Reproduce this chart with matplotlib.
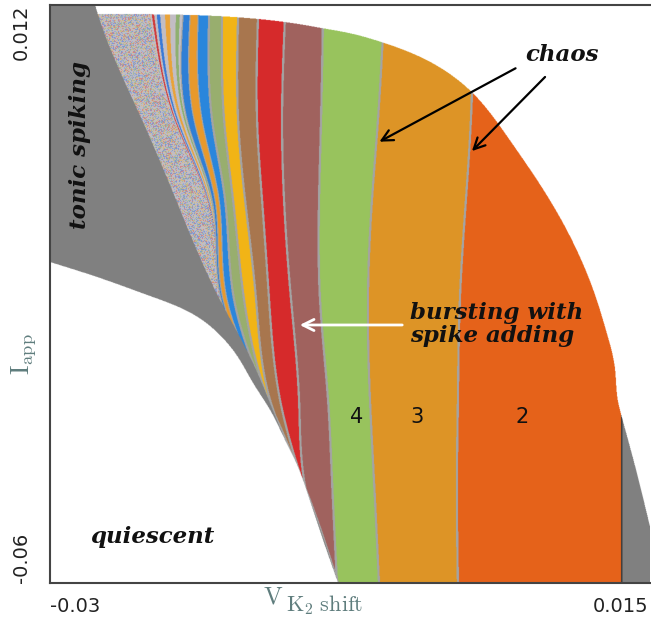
import numpy as np
import matplotlib
matplotlib.use('Agg')
import matplotlib.pyplot as plt
from matplotlib.colors import to_rgb

# ---------------- data ----------------
x_min, x_max = -0.03, 0.015          # V_K2 shift
y_min, y_max = -0.06, 0.012          # I_app

# I_app levels at which band boundaries were read
I_levels = np.array([10.8, -2.3, -12.3, -24.7, -37.2, -47.2, -60.0]) * 1e-3

# left edge of the bursting region (border with tonic spiking)
edge_levels = np.array([12.0, 10.75, -2.33, -12.29, -24.75, -31.85, -40.07,
                        -47.17, -60.0]) * 1e-3
edge_left = np.array([-26.625, -26.4, -23.1, -20.55, -17.25, -15.0, -12.9,
                      -11.1, -8.4]) * 1e-3
# right edge of the fully chaotic wedge
edge_noise = np.array([-22.5, -20.7, -18.225, -16.8, -13.65, -11.1, -8.4]) * 1e-3

# boundaries between spike-adding bands (left to right), V_K2 shift
b_thin = np.array([-20.025, -19.725, -17.85, -17.175, -13.65, -11.1, -8.4]) * 1e-3
b_blue2 = np.array([-19.5, -19.2, -17.625, -17.025, -13.65, -11.1, -8.4]) * 1e-3
b_orng2 = np.array([-18.9, -18.6, -17.325, -16.725, -13.65, -11.1, -8.4]) * 1e-3
b_blue = np.array([-18.075, -17.85, -16.875, -16.2, -13.65, -11.1, -8.4]) * 1e-3
b_olive = np.array([-17.1, -16.95, -16.275, -15.45, -13.65, -11.1, -8.4]) * 1e-3
b_yellow = np.array([-15.9, -15.9, -15.375, -14.55, -13.5, -11.1, -8.4]) * 1e-3
b_brown = np.array([-14.4, -14.475, -14.1, -13.575, -12.75, -11.1, -8.4]) * 1e-3
b_red = np.array([-12.375, -12.6, -12.45, -11.925, -11.325, -10.95, -8.55]) * 1e-3
b_mauve = np.array([-9.525, -9.675, -9.825, -9.75, -9.15, -8.85, -8.475]) * 1e-3
b_four = np.array([-4.95, -5.4, -5.85, -6.15, -6.0, -5.7, -5.325]) * 1e-3
b_three = np.array([1.8, 1.575, 1.2, 0.75, 0.6, 0.525, 0.6]) * 1e-3
b_two = np.array([12.9, 12.9, 12.9, 12.9, 12.9, 12.9, 12.9]) * 1e-3
band_bounds = [b_thin, b_blue2, b_orng2, b_blue, b_olive, b_yellow,
               b_brown, b_red, b_mauve, b_four, b_three, b_two]

band_colors = ['#2f7fd6', '#e99a2c', '#2a86dc', '#98ae6e', '#f2b516',
               '#a8764e', '#d62a2b', '#a0625f', '#98c35d', '#dd9426', '#e5621b']

# quiescent / spiking border
quiet_x = np.array([-30, -26.25, -22.5, -19.725, -18.525, -17.25, -15.975,
                    -14.775, -13.5, -12.375, -11.475, -10.65, -9.525, -8.4]) * 1e-3
quiet_y = np.array([-20.02, -22.01, -24.25, -26.12, -27.32, -29.14, -31.70,
                    -35.09, -38.45, -42.19, -45.30, -49.04, -54.64, -60.0]) * 1e-3

# outer border of the oscillatory region (top / right)
arc_x = np.array([-26.475, -22.5, -18.75, -15.0, -11.25, -9.525, -7.5, -5.1,
                  -1.725, 1.65, 4.5, 7.5, 11.025, 11.775, 12.375, 12.6, 12.9,
                  13.875, 15.075]) * 1e-3
arc_y = np.array([10.88, 10.88, 10.75, 10.38, 9.63, 9.13, 8.51, 7.39, 5.15,
                  1.16, -4.82, -12.29, -24.75, -28.86, -33.09, -37.21, -39.32,
                  -45.30, -53.40]) * 1e-3


# ---------------- smooth interpolation helpers ----------------
def nat_spline(xk, yk, xq):
    xk = np.asarray(xk, float)
    yk = np.asarray(yk, float)
    n = len(xk)
    h = np.diff(xk)
    A = np.zeros((n, n))
    r = np.zeros(n)
    A[0, 0] = A[-1, -1] = 1.0
    for i in range(1, n - 1):
        A[i, i - 1] = h[i - 1]
        A[i, i] = 2 * (h[i - 1] + h[i])
        A[i, i + 1] = h[i]
        r[i] = 3 * ((yk[i + 1] - yk[i]) / h[i] - (yk[i] - yk[i - 1]) / h[i - 1])
    c = np.linalg.solve(A, r)
    b = (yk[1:] - yk[:-1]) / h - h * (2 * c[:-1] + c[1:]) / 3
    d = (c[1:] - c[:-1]) / (3 * h)
    xq = np.clip(xq, xk[0], xk[-1])
    j = np.clip(np.searchsorted(xk, xq) - 1, 0, n - 2)
    dx = xq - xk[j]
    return yk[j] + b[j] * dx + c[j] * dx ** 2 + d[j] * dx ** 3


def curve_y_of_x(cx, cy, xq):
    # parametric spline through the points, then y as a function of x
    sx = (x_max - x_min) / 600.0
    sy = (y_max - y_min) / 578.0
    seg = np.hypot(np.diff(cx) / sx, np.diff(cy) / sy)
    t = np.concatenate([[0], np.cumsum(seg)])
    tt = np.linspace(0, t[-1], 4000)
    xx = nat_spline(t, cx, tt)
    yy = nat_spline(t, cy, tt)
    xx = np.maximum.accumulate(xx)
    return np.interp(xq, xx, yy)


# ---------------- build the classification image ----------------
nx, ny = 1200, 1156
xs = np.linspace(x_min, x_max, nx)
ys = np.linspace(y_min, y_max, ny)
X, Y = np.meshgrid(xs, ys)
px = (x_max - x_min) / 600.0     # one screen pixel in data units


def rowb(vals, lev=I_levels):
    return nat_spline(lev[::-1], np.asarray(vals)[::-1], ys)[:, None]


Lb = rowb(edge_left, edge_levels)
Nb = rowb(edge_noise)
S = [rowb(b) for b in band_bounds]
q = curve_y_of_x(quiet_x, quiet_y, xs)[None, :]
q[:, xs > quiet_x[-1]] = y_min - 1
top = curve_y_of_x(arc_x, arc_y, xs)[None, :]

img = np.ones((ny, nx, 3))
quiet = Y < q
gray_c = np.array(to_rgb('#808080'))
gray_left = (~quiet) & (X < Lb)
inside = (~quiet) & (X >= Lb) & (Y <= top)
right_gray = inside & (X > S[-1])
img[gray_left] = gray_c
img[right_gray] = gray_c

idx = np.zeros_like(X, dtype=int)
for s in S[:-1]:
    idx += (X > s)
band_area = inside & ~right_gray
for k, col in enumerate(band_colors):
    img[band_area & (idx == k + 1)] = to_rgb(col)

# chaotic wedge (speckled texture) and thin stripes
light = np.array(to_rgb('#c2bec4'))
zone0 = band_area & (idx == 0)
noise = zone0 & (X < Nb)
thin = zone0 & (X >= Nb)
img[zone0] = light
I_, J_ = np.meshgrid(np.arange(nx) // 2, np.arange(ny) // 2)
hh = I_.astype(np.uint64) * np.uint64(374761393) + J_.astype(np.uint64) * np.uint64(668265263)
hh ^= hh >> np.uint64(13)
hh *= np.uint64(1274126177)
hh ^= hh >> np.uint64(16)
hsh = (hh % np.uint64(9)).astype(int)
spk_cols = ['#4a78d8', '#d85a5a', '#e6b450', '#8fb878', '#7a9ae0']
for k, col in enumerate(spk_cols):
    m = noise & (hsh == k)
    img[m] = 0.6 * np.array(to_rgb(col)) + 0.4 * light
t = (X - Nb) / np.maximum(S[0] - Nb, 1e-9)
for (a, b, col) in [(0.05, 0.12, '#d03a3a'), (0.2, 0.3, '#3a7ad8'),
                    (0.45, 0.6, '#eaa33a'), (0.78, 0.9, '#8fb070')]:
    img[thin & (t >= a) & (t < b)] = to_rgb(col)

# chaotic borders between bands
line_c = np.array(to_rgb('#a4a4a4'))
for k, s in enumerate(S[:-1]):
    hw = (0.6 if k < 3 else 1.1) * px
    img[band_area & (np.abs(X - s) < hw)] = line_c
img[inside & (np.abs(X - S[-1]) < 0.7 * px)] = to_rgb('#3c3c3c')

# ---------------- figure ----------------
plt.rcParams['mathtext.fontset'] = 'cm'
fig = plt.figure(figsize=(6.51, 6.19), dpi=100)
ax = fig.add_axes([50 / 651, 36 / 619, 600 / 651, 578 / 619])
ax.imshow(img, origin='lower', extent=[x_min, x_max, y_min, y_max],
          aspect='auto', interpolation='antialiased')
ax.set_xlim(x_min, x_max)
ax.set_ylim(y_min, y_max)
ax.set_xticks([])
ax.set_yticks([])
for sp in ['left', 'top', 'bottom']:
    ax.spines[sp].set_color('#444444')
    ax.spines[sp].set_linewidth(1.5)
ax.spines['right'].set_visible(False)

tick_kw = dict(fontsize=14, color='#222222', family='DejaVu Sans')
ax.annotate('-0.03', xy=(x_min, 0), xycoords=('data', 'axes fraction'),
            xytext=(0, -10), textcoords='offset points', ha='left', va='top', **tick_kw)
ax.annotate('0.015', xy=(x_max, 0), xycoords=('data', 'axes fraction'),
            xytext=(-1, -10), textcoords='offset points', ha='right', va='top', **tick_kw)
ax.annotate('0.012', xy=(0, y_max), xycoords=('axes fraction', 'data'),
            xytext=(-14, 0), textcoords='offset points', ha='right', va='top',
            rotation=90, **tick_kw)
ax.annotate('-0.06', xy=(0, y_min), xycoords=('axes fraction', 'data'),
            xytext=(-14, 0), textcoords='offset points', ha='right', va='bottom',
            rotation=90, **tick_kw)

lab_c = '#5f7d7d'
fig.text(0.036, 0.428, r'$\mathrm{I}_{\mathrm{app}}$', rotation=90,
         ha='center', va='center', fontsize=19, color=lab_c)
fig.text(263 / 651, 1 - 603 / 619, r'$\mathrm{V}$', ha='left', va='baseline',
         fontsize=18, color=lab_c)
fig.text(286 / 651, 1 - 611 / 619, r'$\mathrm{K}_2\ \mathrm{shift}$',
         ha='left', va='baseline', fontsize=16, color=lab_c)

ann_kw = dict(family='DejaVu Serif', fontweight='bold', style='italic',
              fontsize=16.5, color='#111111')
ax.text(-0.02775, -0.00544, 'tonic spiking', rotation=90, ha='center',
        va='center', **ann_kw)
ax.text(-0.02235, -0.05427, 'quiescent', ha='center', va='center', **ann_kw)
ax.text(0.00840, 0.00577, 'chaos', ha='center', va='center', **ann_kw)
ax.text(-0.003, -0.02775, 'bursting with\nspike adding', ha='left',
        va='center', linespacing=1.05, **ann_kw)

num_kw = dict(fontsize=15, color='#111111', family='DejaVu Sans',
              ha='center', va='center')
ax.text(-0.006975, -0.03932, '4', **num_kw)
ax.text(-0.002475, -0.03932, '3', **num_kw)
ax.text(0.0054, -0.03932, '2', **num_kw)

arr_k = dict(arrowstyle='->', lw=1.6, color='black', mutation_scale=20)
ax.annotate('', xy=(-0.005475, -0.00519), xytext=(0.0051, 0.00428),
            arrowprops=arr_k)
ax.annotate('', xy=(0.0015, -0.00644), xytext=(0.007275, 0.00328),
            arrowprops=arr_k)
ax.annotate('', xy=(-0.011475, -0.02786), xytext=(-0.003375, -0.02786),
            arrowprops=dict(arrowstyle='->', lw=2, color='white',
                            mutation_scale=20))

fig.savefig('out.png', dpi=100)
